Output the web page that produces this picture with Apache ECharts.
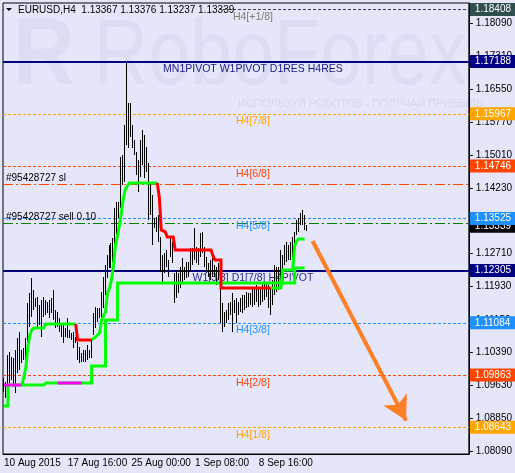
<!DOCTYPE html>
<html><head><meta charset="utf-8">
<script src="https://cdn.jsdelivr.net/npm/echarts@6/dist/echarts.min.js"></script>
<style>html,body{margin:0;padding:0;background:#e6e6fa;}#c{width:515px;height:473px;}</style>
</head><body><div id="c"></div>
<script>
// ---------- data ----------
const symbolName = 'EURUSD,H4';
const lastOHLC = [1.13367, 1.13376, 1.13237, 1.13339];

const barHigh = [1.09797,1.09704,1.10334,1.10404,1.10288,1.10264,1.10451,1.10731,1.10872,1.10451,
1.10498,1.10731,1.11549,1.11783,1.12133,1.11853,1.11666,1.11689,1.11502,1.11619,
1.11689,1.11619,1.11572,1.11619,1.11666,1.11853,1.11385,1.11339,1.11199,1.11082,
1.11035,1.10965,1.11199,1.10918,1.10848,1.10872,1.10755,1.10638,1.10521,1.10381,
1.10451,1.10451,1.10568,1.10451,1.10685,1.11315,1.11456,1.11432,1.11432,1.11806,
1.12156,1.12437,1.12670,1.12904,1.12951,1.13067,1.13768,1.13908,1.13908,1.14960,
1.15006,1.15707,1.17155,1.16221,1.16221,1.15707,1.15357,1.15076,1.14889,1.15357,
1.15590,1.15473,1.15193,1.14819,1.14352,1.14072,1.13535,1.13558,1.13605,1.13091,
1.12670,1.12717,1.12787,1.12553,1.13067,1.12974,1.12250,1.12320,1.12250,1.12390,
1.12600,1.12390,1.12507,1.12507,1.12834,1.12834,1.13301,1.12857,1.12834,1.13184,
1.13208,1.12857,1.12624,1.12483,1.12553,1.12600,1.12437,1.12390,1.12483,1.12390,
1.11549,1.11339,1.11385,1.11549,1.11572,1.11783,1.11619,1.11666,1.11572,1.11666,
1.11736,1.11736,1.11806,1.11783,1.11783,1.11923,1.11923,1.11969,1.11923,1.11923,
1.12016,1.12016,1.12040,1.11969,1.11899,1.12086,1.12437,1.12390,1.12390,1.12787,
1.12670,1.12904,1.12974,1.12904,1.12974,1.13091,1.13208,1.13488,1.13535,1.13651,
1.13721,1.13605,1.13376];

const barLow = [1.09470,1.09330,1.09283,1.09680,1.09750,1.09587,1.09447,1.09914,1.09984,1.10147,
1.10217,1.09984,1.10615,1.10988,1.11222,1.11385,1.11456,1.10988,1.11035,1.10755,
1.11222,1.11269,1.11315,1.11199,1.11315,1.11152,1.10965,1.10988,1.10872,1.10755,
1.10615,1.10755,1.10731,1.10731,1.10685,1.10498,1.10615,1.10217,1.10147,1.10171,
1.10171,1.10171,1.10217,1.10264,1.10264,1.10801,1.10965,1.11105,1.11199,1.11105,
1.11432,1.11736,1.12133,1.12367,1.12367,1.12507,1.12670,1.13137,1.13535,1.13768,
1.14305,1.14376,1.15240,1.15170,1.15427,1.15170,1.15006,1.14539,1.14142,1.14492,
1.14773,1.14469,1.14609,1.13488,1.13605,1.12904,1.13301,1.13208,1.12974,1.12273,
1.12016,1.12250,1.12390,1.12156,1.12624,1.12483,1.11549,1.11666,1.11783,1.11899,
1.12016,1.12086,1.12133,1.12156,1.12320,1.12437,1.12553,1.12483,1.12437,1.12624,
1.12717,1.12390,1.12250,1.12156,1.12086,1.12156,1.12156,1.11969,1.12086,1.11082,
1.10872,1.10988,1.11082,1.11152,1.11269,1.10872,1.11315,1.11082,1.11269,1.11339,
1.11315,1.11385,1.11432,1.11456,1.11502,1.11456,1.11502,1.11572,1.11456,1.11502,
1.11572,1.11619,1.11689,1.11432,1.11269,1.11502,1.11736,1.11806,1.11853,1.12086,
1.12320,1.12437,1.12507,1.12553,1.12553,1.12437,1.12904,1.13137,1.13208,1.13371,
1.13371,1.13254,1.13237];

// indicator vertices: [bar index, price]; '-' = gap
const slowGreen = [[0,1.09143],[2,1.09143],[2,1.09633],[20,1.09633],[21,1.09680],[44,1.09680],[44,1.10077],[51,1.10077],[51,1.11152],[57,1.11152],[57,1.12016],[146,1.12016],[146,1.12367],[151,1.12367]];
const slowMagenta = [[0,1.09633],[9,1.09633],[18,'-'],[27,1.09680],[39,1.09680]];
const fastGreen = [[9,1.09633],[10,1.09820],[11,1.10054],[12,1.10521],[13,1.10801],[14,1.10918],[15,1.10965],[20,1.10965],[21,1.11058],[36,1.11058],
  [40,'-'],
  [44,1.10685],[46,1.10755],[48,1.10848],[49,1.11152],[51,1.11339],[52,1.11783],[53,1.11899],[54,1.12086],[55,1.12437],[56,1.12904],[57,1.13114],[58,1.13371],[59,1.13675],[60,1.14002],[61,1.14212],[62,1.14282],[63,1.14352],[77,1.14352],
  [100,'-'],
  [134,1.11899],[139,1.11899],[140,1.12320],[145,1.12320],[146,1.12880],[147,1.12997],[148,1.13044],[151,1.13044]];
const fastRed = [[36,1.11058],[37,1.10685],[44,1.10685],
  [60,'-'],
  [77,1.14352],[78,1.14025],[79,1.13254],[80,1.13208],[81,1.13208],[82,1.13091],[85,1.13091],[86,1.12787],[104,1.12787],[105,1.12647],[106,1.12553],[109,1.12553],[109,1.11899],[134,1.11899]];

// Murrey / pivot levels
const levelValues = [1.18408, 1.17188, 1.15967, 1.14746, 1.13525, 1.12305, 1.11084, 1.09863, 1.08643];
const levelNames = ['H4[+1/8]', 'MN1PIVOT W1PIVOT D1RES H4RES', 'H4[7/8]', 'H4[6/8]', 'H4[5/8]', 'W1[3/8] D1[7/8] H4PIVOT', 'H4[3/8]', 'H4[2/8]', 'H4[1/8]'];
// order lines
const orderValues = [1.14329, 1.13418];
const orderNames = ['#95428727 sl', '#95428727 sell 0.10'];
// forecast arrow [bar index, price]
const arrowFrom = [155, 1.12997];
const arrowTo = [202, 1.08800];

const yTickValues = [1.08090, 1.08850, 1.09630, 1.10390, 1.11150, 1.11930, 1.12710, 1.13470, 1.14230, 1.15010, 1.15770, 1.16550, 1.17310, 1.18090];
const yMin = 1.0802, yMax = 1.18557;

// time axis: H4 bars, weekdays only
const firstBarTime = Date.UTC(2015, 7, 10, 8, 0);
const slotCount = 234;
const labelEvery = 32;
const monthNames = ['Jan','Feb','Mar','Apr','May','Jun','Jul','Aug','Sep','Oct','Nov','Dec'];

// ---------- build ----------
const categories = [];
for (let t = firstBarTime; categories.length < slotCount; t += 4 * 3600e3) {
  const d = new Date(t);
  const wd = d.getUTCDay();
  if (wd === 0 || wd === 6) continue;
  const pad = n => String(n).padStart(2, '0');
  categories.push(categories.length === 0
    ? d.getUTCDate() + ' ' + monthNames[d.getUTCMonth()] + ' ' + d.getUTCFullYear()
    : d.getUTCDate() + ' ' + monthNames[d.getUTCMonth()] + ' ' + pad(d.getUTCHours()) + ':' + pad(d.getUTCMinutes()));
}
const showLabel = i => i % labelEvery === 0 && i < barHigh.length;
const bars = barHigh.map((h, i) => [i, barLow[i], h]);

const FONT = 'Liberation Sans';
const levelStyle = [
  {line:'#404040', text:'#808070', box:'#2f4f4f', type:[3,2], width:1},
  {line:'#000080', text:'#1a1a8c', box:'#000080', type:'solid', width:2},
  {line:'#ffa500', text:'#ffa500', box:'#ffa500', type:[3,2], width:1},
  {line:'#ff4500', text:'#ff4500', box:'#ff4500', type:[3,2], width:1},
  {line:'#1e90ff', text:'#1e90ff', box:'#1e90ff', type:[3,2], width:1},
  {line:'#000080', text:'#2a2a90', box:'#000080', type:'solid', width:2},
  {line:'#1e90ff', text:'#1e90ff', box:'#1e90ff', type:[3,2], width:1},
  {line:'#ff4500', text:'#ff4500', box:'#ff4500', type:[3,2], width:1},
  {line:'#ffa500', text:'#ffa500', box:'#ffa500', type:[3,2], width:1}
];
const orderStyle = [
  {line:'#ff4500', type:[10,3,2,3]},
  {line:'#008000', type:[10,3,2,3]}
];

const boxLabel = (v, bg) => ({
  yAxis: v, lineStyle: {color: 'rgba(0,0,0,0)', width: 0},
  label: {show: true, position: 'end', distance: 1, formatter: () => v.toFixed(5),
    color: '#fff', backgroundColor: bg, padding: [2, 6, 1, 5], fontSize: 10, fontFamily: FONT}
});

const lineData = [];
orderValues.forEach((v, k) => {
  lineData.push({yAxis: v, lineStyle: {color: orderStyle[k].line, type: orderStyle[k].type, width: 1},
    label: {show: true, position: 'insideStartTop', distance: 1, offset: [2, 0], formatter: orderNames[k], color: '#000', fontSize: 10, fontFamily: FONT}});
});
levelValues.forEach((v, k) => {
  const s = levelStyle[k];
  lineData.push({yAxis: v, lineStyle: {color: s.line, type: s.type, width: s.width},
    label: {show: true, position: 'insideMiddleBottom', distance: 2, offset: [17, 0], formatter: levelNames[k], color: s.text, fontSize: 10.5, fontFamily: FONT}});
});
const boxData = [];
levelValues.forEach((v, k) => { if (k !== 4) boxData.push(boxLabel(v, levelStyle[k].box)); });
boxData.push(boxLabel(lastOHLC[3], '#000'));
boxData.push(boxLabel(levelValues[4], levelStyle[4].box));

const chart = echarts.init(document.getElementById('c'), null, {renderer: 'canvas'});
chart.setOption({
  animation: false,
  backgroundColor: '#e6e6fa',
  grid: {left: 3, right: 44, top: 3, bottom: 19, show: true, borderColor: '#000', borderWidth: 1, backgroundColor: 'transparent'},
  xAxis: {
    type: 'category', data: categories, boundaryGap: true,
    axisLine: {lineStyle: {color: '#000'}},
    axisTick: {alignWithLabel: true, interval: showLabel, length: 4, lineStyle: {color: '#000'}},
    axisLabel: {interval: showLabel, align: 'left', margin: 4, color: '#000', fontSize: 10, fontFamily: FONT},
    splitLine: {show: false}
  },
  yAxis: {
    type: 'value', position: 'right', min: yMin, max: yMax,
    axisLine: {show: true, lineStyle: {color: '#000'}},
    axisTick: {show: true, length: 4, customValues: yTickValues, lineStyle: {color: '#000'}},
    axisLabel: {customValues: yTickValues, formatter: v => v.toFixed(5), margin: 7, color: '#000', fontSize: 10, fontFamily: FONT},
    splitLine: {show: false}
  },
  graphic: [
    {type: 'text', x: 94, y: 58, z: -5, scaleX: 0.81, style: {text: 'RoboForex', font: '93px "Liberation Sans"', fill: '#dcdcf4', textVerticalAlign: 'middle'}},
    {type: 'text', x: 13, y: 58, z: -5, scaleX: 0.9, style: {text: 'R', font: 'bold 95px "Liberation Sans"', fill: '#dcdcf4', textVerticalAlign: 'middle'}},
    {type: 'text', x: 238, y: 104, z: -5, style: {text: 'ИСПОЛЬЗУЙ РОБОТОВ - ПОЛУЧАЙ ПРИБЫЛЬ', font: '11px "Liberation Sans"', fill: '#d6d6f0', textVerticalAlign: 'middle'}},
    {type: 'rect', z: 100, shape: {x: 4, y: 4, width: 215, height: 12}, style: {fill: '#e6e6fa'}},
    {type: 'polygon', z: 101, shape: {points: [[6, 8], [12, 8], [9, 11]]}, style: {fill: '#000'}},
    {type: 'text', x: 18, y: 10, z: 101, style: {text: symbolName + '  ' + lastOHLC.map(v => v.toFixed(5)).join(' '), font: '10px "Liberation Sans"', fill: '#000', textVerticalAlign: 'middle'}}
  ],
  series: [
    {type: 'custom', z: 2, data: bars, encode: {x: 0, y: [1, 2]}, silent: true,
      renderItem: (params, api) => {
        const hi = api.coord([api.value(0), api.value(2)]);
        const lo = api.coord([api.value(0), api.value(1)]);
        const x = Math.round(hi[0]) - 0.5;
        return {type: 'line', shape: {x1: x, y1: Math.round(hi[1]), x2: x, y2: Math.round(lo[1])}, style: {stroke: '#000', lineWidth: 1}};
      },
      markLine: {z: 1, precision: 5, symbol: 'none', silent: true, animation: false, data: lineData.concat(boxData)}},
    {type: 'line', z: 3, data: slowGreen, showSymbol: false, lineStyle: {color: '#00ff00', width: 3, join: 'miter'}, silent: true},
    {type: 'line', z: 3, data: slowMagenta, showSymbol: false, lineStyle: {color: '#ff00ff', width: 3}, silent: true},
    {type: 'line', z: 3, data: fastGreen, showSymbol: false, lineStyle: {color: '#00ff00', width: 3, join: 'miter'}, silent: true},
    {type: 'line', z: 3, data: fastRed, showSymbol: false, lineStyle: {color: '#ff0000', width: 3, join: 'miter'}, silent: true,
      markLine: {z: 5, precision: 5, symbol: ['none', 'arrow'], symbolSize: [20, 24], silent: true, animation: false,
        lineStyle: {color: '#ff7f27', width: 4, type: 'solid'}, label: {show: false},
        data: [[{coord: arrowFrom}, {coord: arrowTo}]]}}
  ]
});
</script></body></html>
